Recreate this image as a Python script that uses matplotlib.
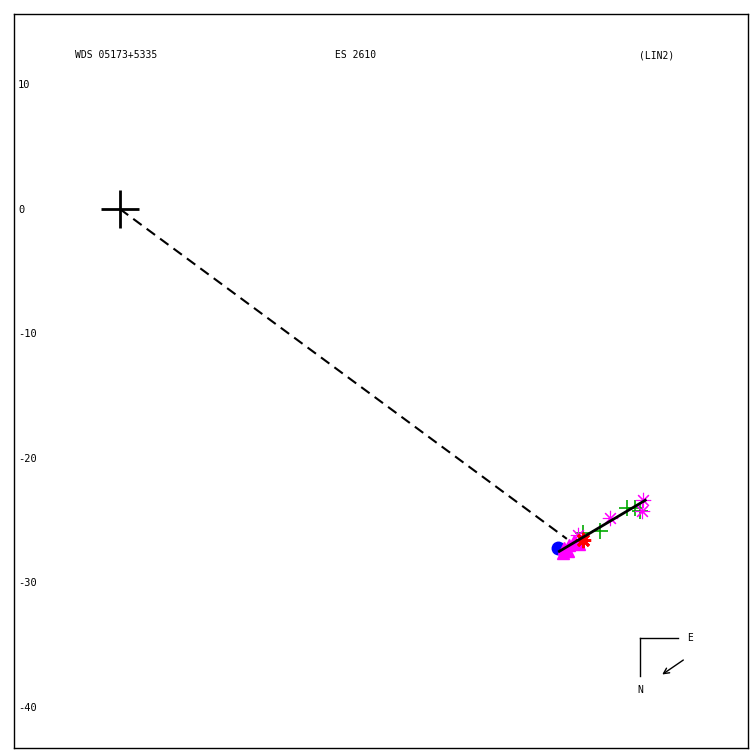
import matplotlib.pyplot as plt

# primary star and fitted motion
primary = (0.0, 0.0)
fit_x = [35.3, 42.2]
fit_y = [-27.5, -23.4]
dash_x = [0.0, 35.9]
dash_y = [0.0, -26.5]

# observations
blue_x = [35.2]
blue_y = [-27.2]
blob_x = [35.7, 36.1, 36.5, 36.0, 36.9, 35.6]
blob_y = [-27.2, -27.0, -26.7, -27.5, -26.9, -27.6]
red_x = [37.2]
red_y = [-26.6]
green_x = [37.2, 38.6, 40.7, 41.4, 41.8]
green_y = [-26.0, -25.9, -24.0, -24.0, -24.3]
mag_x = [36.8, 39.4, 42.0, 41.9]
mag_y = [-26.2, -24.8, -23.4, -24.3]

yticks = [10, 0, -10, -20, -30, -40]

plt.rcParams['font.family'] = 'DejaVu Sans Mono'

fig = plt.figure(figsize=(7.5, 7.5), dpi=100)
ax = fig.add_axes([14 / 750, 2 / 750, 734 / 750, 734 / 750])
ax.set_xlim(-8.5, 50.45)
ax.set_ylim(-43.3, 15.66)

ax.plot(dash_x, dash_y, color='black', lw=1.5, ls=(0, (5, 3)))
ax.plot(*primary, marker='+', ms=27, mew=2, color='black')

ax.plot(blue_x, blue_y, 'o', color='blue', ms=9)
ax.plot(blob_x, blob_y, '^', color='magenta', ms=9)
ax.plot(green_x, green_y, '+', color='#00aa00', ms=12, mew=1.2)
ax.plot(mag_x, mag_y, marker=(8, 2, 0), ls='none', color='magenta', ms=11, mew=0.8)
ax.plot(red_x, red_y, marker=(8, 2, 0), ls='none', color='red', ms=11, mew=2)
ax.plot(fit_x, fit_y, color='black', lw=2)

ax.set_xticks([])
ax.set_yticks(yticks)
ax.set_yticklabels([str(t) for t in yticks], fontsize=7.5)
ax.tick_params(axis='y', length=0, pad=-3)
for lbl in ax.get_yticklabels():
    lbl.set_ha('left')

ax.text(0.083, 0.944, 'WDS 05173+5335', transform=ax.transAxes, fontsize=7, va='center')
ax.text(0.437, 0.944, 'ES 2610', transform=ax.transAxes, fontsize=7, va='center')
ax.text(0.851, 0.944, '(LIN2)', transform=ax.transAxes, fontsize=7, va='center')

# compass
ax.plot([0.853, 0.905], [0.150, 0.150], color='black', lw=1, transform=ax.transAxes)
ax.plot([0.853, 0.853], [0.150, 0.098], color='black', lw=1, transform=ax.transAxes)
ax.text(0.917, 0.150, 'E', transform=ax.transAxes, fontsize=7, va='center')
ax.text(0.849, 0.079, 'N', transform=ax.transAxes, fontsize=7, va='center')
ax.annotate('', xy=(0.880, 0.098), xytext=(0.915, 0.122), xycoords='axes fraction',
            arrowprops=dict(arrowstyle='->', color='black', lw=1))

for s in ax.spines.values():
    s.set_linewidth(1)

fig.savefig('out.png', dpi=100)
